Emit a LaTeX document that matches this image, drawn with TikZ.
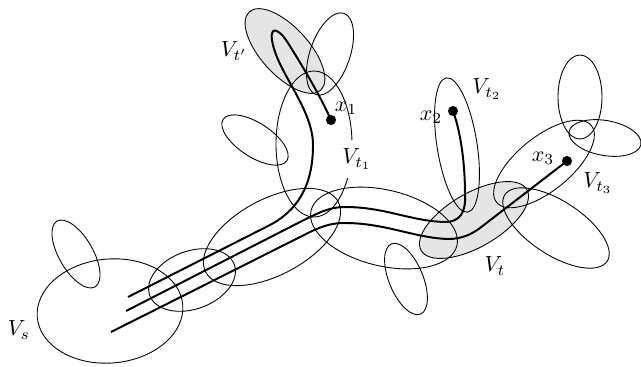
\documentclass[tikz,border=0pt]{standalone}
\usepackage{amsmath}
\usepackage{tikz}
\colorlet{bagfill}{gray!20}

\begin{document}
\begin{tikzpicture}[x=0.016cm,y=-0.016cm,
  route/.style={line width=0.9pt},
  vertex/.style={circle,fill,inner sep=0pt,minimum size=4.6pt}]
\useasboundingbox (0,0) rectangle (641,366);
% shaded bags
\fill[bagfill,rotate around={-47.6:(285,51)}] (285,51) ellipse (53 and 24);
\fill[bagfill,rotate around={30:(474,220)}] (474,220) ellipse (61 and 27);
% bags
\draw[rotate around={5:(110,311)}] (110,311) ellipse (73 and 52);
\draw[rotate around={-60:(76,254)}] (76,254) ellipse (38 and 17);
\draw[rotate around={20:(192,280)}] (192,280) ellipse (45 and 29);
\draw[rotate around={28:(272,237)}] (272,237) ellipse (75 and 38);
\draw[rotate around={-13.5:(384,228)}] (384,228) ellipse (75 and 38);
\draw (314,144) ellipse (38 and 73);
\draw[rotate around={-47.6:(285,51)}] (285,51) ellipse (53 and 24);
\draw[rotate around={71:(330,54)}] (330,54) ellipse (43 and 20);
\draw[rotate around={-33:(255,140)}] (255,140) ellipse (38 and 17);
\draw[rotate around={99:(457,145)}] (457,145) ellipse (68 and 20);
\draw[rotate around={30:(474,220)}] (474,220) ellipse (61 and 27);
\draw[rotate around={39:(544,164)}] (544,164) ellipse (61 and 27);
\draw[rotate around={-33:(556,228)}] (556,228) ellipse (61 and 27);
\draw (580,97) ellipse (22 and 42);
\draw[rotate around={-10:(605,138)}] (605,138) ellipse (36.5 and 17.5);
\draw[rotate around={-67.5:(406,279)}] (406,279) ellipse (38 and 17);
% end points
\coordinate (s1) at (128,297);
\coordinate (s2) at (126,311);
\coordinate (s3) at (111,332);
\node[vertex] (x1) at (331,120) {};
\node[vertex] (x2) at (453,111) {};
\node[vertex] (x3) at (567,161) {};
% routes
\draw[route] (s1) -- (268,226) .. controls (298,211) and (313,185) .. (313,145)
  .. controls (313,110) and (280,75) .. (273,45)
  .. controls (268,25) and (278,27) .. (288,43)
  .. controls (300,62) and (320,95) .. (x1.center);
\draw[route] (s2) -- (300,222) .. controls (320,212) and (330,207) .. (345,207)
  .. controls (385,207) and (410,221) .. (445,222)
  .. controls (460,222) and (466,212) .. (465,195)
  .. controls (465,160) and (460,130) .. (x2.center);
\draw[route] (s3) -- (310,232) .. controls (325,225) and (333,223) .. (345,223)
  .. controls (385,223) and (415,238) .. (448,239)
  .. controls (462,239) and (472,234) .. (480,228) -- (x3.center);
% labels
\node (ls) at (19,330) {$V_s$};
\node (ltp) at (234,51) {$V_{t'}$};
\node[fill=white,inner sep=4pt] (lt1) at (357,159) {$V_{t_1}$};
\node (lt2) at (487,89) {$V_{t_2}$};
\node (lt3) at (598,183) {$V_{t_3}$};
\node (lt) at (495,266) {$V_t$};
\node (lx1) at (346,108) {$x_1$};
\node (lx2) at (431,117) {$x_2$};
\node (lx3) at (543,158) {$x_3$};
\end{tikzpicture}
\end{document}
